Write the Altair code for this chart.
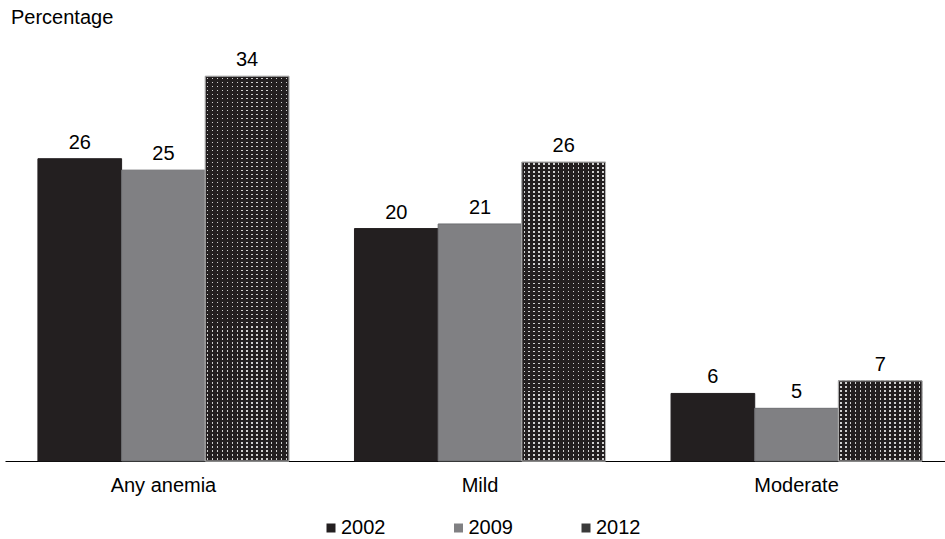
import altair as alt

categories = ["Any anemia", "Mild", "Moderate"]
years = ["2002", "2009", "2012"]
values_2002 = [26.4, 20.3, 5.9]
values_2009 = [25.4, 20.7, 4.6]
values_2012 = [33.6, 26.1, 7.0]
labels_2002 = ["26", "20", "6"]
labels_2009 = ["25", "21", "5"]
labels_2012 = ["34", "26", "7"]
fill_colors = ["#231f20", "#808083", "#3a3a3a"]
stroke_colors = ["#231f20", "#6d6e71", "#b4b4b4"]

FONT = "Liberation Sans"
FS = 20
W, H = 940, 431
D = 37.64
PX_PER_UNIT = H / D
DARK = "#231f20"
DOT = "#d0d0d0"

def hard_stops(n, frac, on, off):
    stops = []
    for i in range(n):
        a = i / n
        b = (i + (1 - frac) / 2) / n
        c = (i + (1 + frac) / 2) / n
        d = (i + 1) / n
        stops += [
            {"offset": a, "color": off}, {"offset": b, "color": off},
            {"offset": b, "color": on}, {"offset": c, "color": on},
            {"offset": c, "color": off}, {"offset": d, "color": off},
        ]
    return stops

records = []
for yr, vals, labs in zip(years, [values_2002, values_2009, values_2012],
                          [labels_2002, labels_2009, labels_2012]):
    for c, v, l in zip(categories, vals, labs):
        n_rows = max(1, round(v * PX_PER_UNIT / 4))
        grad = {"gradient": "linear", "x1": 0, "y1": 0, "x2": 0, "y2": 1,
                "stops": hard_stops(n_rows, 0.38, "rgba(35,31,32,0)", "rgba(35,31,32,1)")}
        records.append({"category": c, "year": yr, "value": v, "label": l,
                        "rowmask": grad})

data = alt.Data(values=records)

x = alt.X("category:N", sort=categories, title=None,
          scale=alt.Scale(range=[0, 950], paddingInner=0.207, paddingOuter=0.104),
          axis=alt.Axis(labelAngle=0, ticks=False, tickSize=0, labelPadding=30,
                        labelBaseline="alphabetic", labelFont=FONT, labelFontSize=FS,
                        labelColor="#000", domainColor="#000", domainWidth=1.2,
                        grid=False))
xo = alt.XOffset("year:N", sort=years, scale=alt.Scale(paddingInner=0, paddingOuter=0))
y = alt.Y("value:Q", stack=None,
          scale=alt.Scale(domain=[0, D], nice=False, zero=True), axis=None)

bars = alt.Chart(data).mark_bar(strokeWidth=1).encode(
    x=x, xOffset=xo, y=y,
    fill=alt.Fill("year:N", sort=years,
                  scale=alt.Scale(domain=years, range=fill_colors),
                  legend=alt.Legend(orient="none", legendX=316, legendY=488,
                                    direction="horizontal", title=None,
                                    symbolType="square", symbolSize=81,
                                    symbolStrokeWidth=0, labelFont=FONT,
                                    labelFontSize=FS, labelColor="#000",
                                    labelOffset=0, columnPadding=62.5, padding=0)),
    stroke=alt.Stroke("year:N", sort=years,
                      scale=alt.Scale(domain=years, range=stroke_colors),
                      legend=None),
)

col_grad = alt.LinearGradient(
    gradient="linear", x1=0, y1=0, x2=1, y2=0,
    stops=[alt.GradientStop(offset=s["offset"], color=s["color"])
           for s in hard_stops(17, 0.3, DOT, DARK)])

dots_cols = alt.Chart(data).mark_bar(fill=col_grad, strokeWidth=0).encode(
    x=x, xOffset=xo, y=y,
).transform_filter(alt.datum.year == "2012")

dots_rows = alt.Chart(data).mark_bar(strokeWidth=1, stroke="#b4b4b4").encode(
    x=x, xOffset=xo, y=y,
    fill=alt.Fill("rowmask:N", scale=None, legend=None),
).transform_filter(alt.datum.year == "2012")

text = alt.Chart(data).mark_text(dy=-10, baseline="alphabetic", font=FONT,
                                 fontSize=FS, color="#000").encode(
    x=x, xOffset=xo, y=y, text="label:N")

chart = alt.layer(bars, dots_cols, dots_rows, text).properties(
    width=W, height=H,
    title=alt.TitleParams("Percentage", anchor="start", frame="group", dx=6,
                          offset=2, font=FONT, fontSize=FS, fontWeight="normal",
                          color="#000"),
    padding={"left": 5, "top": 30, "right": 0, "bottom": 78},
    autosize=alt.AutoSizeParams(type="none"),
).configure_view(stroke=None)

chart.save("out.html", embed_options={"renderer": "svg", "actions": False})
